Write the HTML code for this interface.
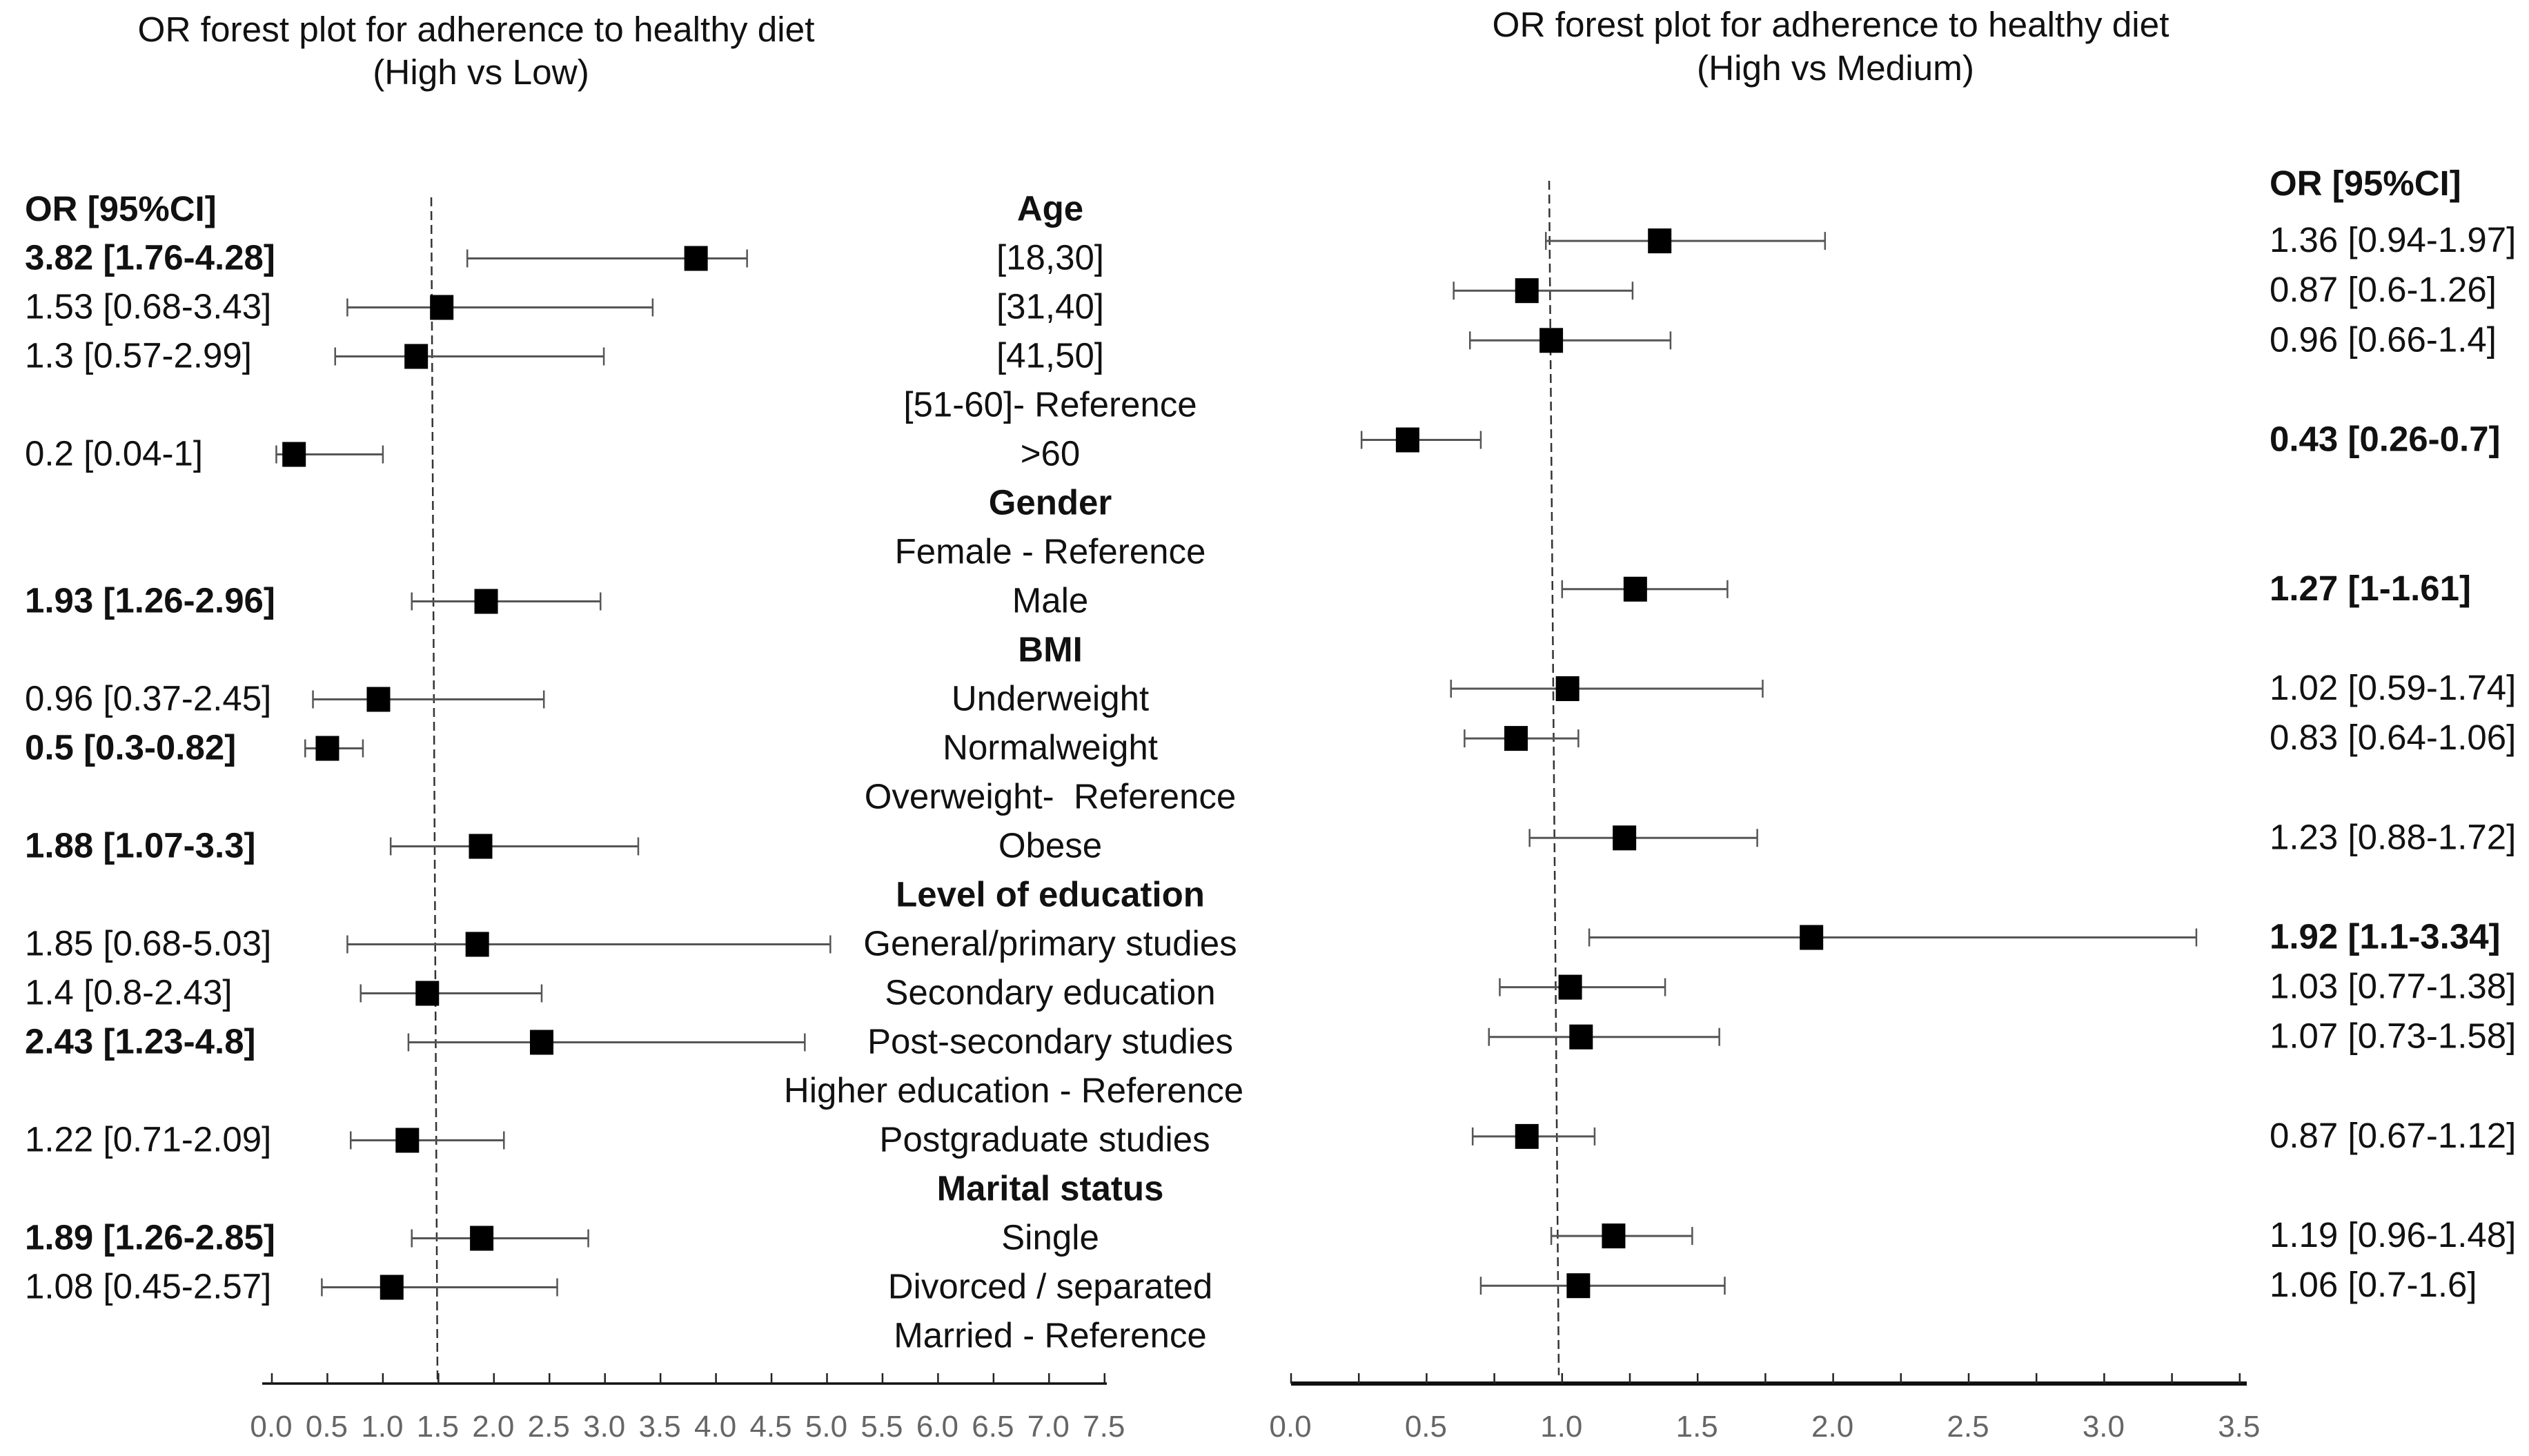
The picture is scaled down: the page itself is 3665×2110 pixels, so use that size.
<!DOCTYPE html>
<html lang="en">
<head>
<meta charset="utf-8">
<title>OR forest plots for adherence to healthy diet</title>
<style>
html,body{margin:0;padding:0;background:#fff;}
svg{display:block;}
text{font-family:"Liberation Sans",Arial,sans-serif;fill:#111;white-space:pre;}
</style>
</head>
<body>
<svg id="chart" xmlns="http://www.w3.org/2000/svg" width="3665" height="2110" viewBox="0 0 3665 2110">
  <rect x="0" y="0" width="3665" height="2110" fill="#ffffff"/>
  <g>
    <text x="690" y="60" font-size="51.3" text-anchor="middle" fill="#222">OR forest plot for adherence to healthy diet</text>
    <text x="697" y="122" font-size="51.3" text-anchor="middle" fill="#222">(High vs Low)</text>
  </g>
  <g>
    <text x="2653" y="53" font-size="51.3" text-anchor="middle" fill="#222">OR forest plot for adherence to healthy diet</text>
    <text x="2660" y="116" font-size="51.3" text-anchor="middle" fill="#222">(High vs Medium)</text>
  </g>
  <text x="36" y="320" font-size="51" font-weight="bold">OR [95%CI]</text>
  <text x="3289" y="283" font-size="51" font-weight="bold">OR [95%CI]</text>
  <g id="labels"></g>
  <g id="leftPlot"></g>
  <g id="rightPlot"></g>
</svg>
<script>
const categories = ["Age","[18,30]","[31,40]","[41,50]","[51-60]- Reference",">60","Gender","Female - Reference","Male","BMI","Underweight","Normalweight","Overweight-  Reference","Obese","Level of education","General/primary studies","Secondary education","Post-secondary studies","Higher education - Reference","Postgraduate studies","Marital status","Single","Divorced / separated","Married - Reference"];
const headerCategories = ["Age","Gender","BMI","Level of education","Marital status"];

const leftOR   = [null,3.82,1.53,1.3,null,0.2,null,null,1.93,null,0.96,0.5,null,1.88,null,1.85,1.4,2.43,null,1.22,null,1.89,1.08,null];
const leftLow  = [null,1.76,0.68,0.57,null,0.04,null,null,1.26,null,0.37,0.3,null,1.07,null,0.68,0.8,1.23,null,0.71,null,1.26,0.45,null];
const leftHigh = [null,4.28,3.43,2.99,null,1,null,null,2.96,null,2.45,0.82,null,3.3,null,5.03,2.43,4.8,null,2.09,null,2.85,2.57,null];
const leftSignificant = [false,true,false,false,false,false,false,false,true,false,false,true,false,true,false,false,false,true,false,false,false,true,false,false];

const rightOR   = [null,1.36,0.87,0.96,null,0.43,null,null,1.27,null,1.02,0.83,null,1.23,null,1.92,1.03,1.07,null,0.87,null,1.19,1.06,null];
const rightLow  = [null,0.94,0.6,0.66,null,0.26,null,null,1,null,0.59,0.64,null,0.88,null,1.1,0.77,0.73,null,0.67,null,0.96,0.7,null];
const rightHigh = [null,1.97,1.26,1.4,null,0.7,null,null,1.61,null,1.74,1.06,null,1.72,null,3.34,1.38,1.58,null,1.12,null,1.48,1.6,null];
const rightSignificant = [false,false,false,false,false,true,false,false,true,false,false,false,false,false,false,true,false,false,false,false,false,false,false,false];

const leftTickValues  = [0,0.5,1,1.5,2,2.5,3,3.5,4,4.5,5,5.5,6,6.5,7,7.5];
const rightTickValues = [0,0.5,1,1.5,2,2.5,3,3.5];
const rightMinorTickValues = [0.25,0.75,1.25,1.75,2.25,2.75,3.25];

const SVG_NS = "http://www.w3.org/2000/svg";
function make(parent, tag, attrs, content) {
  const el = document.createElementNS(SVG_NS, tag);
  for (const k in attrs) el.setAttribute(k, attrs[k]);
  if (content !== undefined) el.textContent = content;
  parent.appendChild(el);
  return el;
}
function leftX(v) { return 394 + v * 160.9; }
function rightX(v) { return 1871 + v * 392.8; }
function leftRowY(i) { return 303.5 + i * 71; }
function rightRowY(i) { return 277 + i * 72.1; }
function ciLabel(or, low, high) { return or + " [" + low + "-" + high + "]"; }

/* centre category labels */
const labelsGroup = document.getElementById("labels");
const labelCenterShift = {18: -53, 19: -8};
categories.forEach(function (name, i) {
  const cx = 1522 + (labelCenterShift[i] || 0);
  const t = make(labelsGroup, "text", {
    x: cx, y: leftRowY(i) + 16, "font-size": 51, "text-anchor": "middle",
    "font-weight": headerCategories.includes(name) ? "bold" : "normal"
  }, name);
  
  
});

function drawPanel(cfg) {
  const g = cfg.group;

  /* reference dashed line */
  const ref = make(g, "line", {
    x1: cfg.refLine[0], y1: cfg.refLine[1], x2: cfg.refLine[2], y2: cfg.refLine[3],
    stroke: "#333", "stroke-width": 2.5, "stroke-dasharray": "13 7"
  });
  
  

  /* axis */
  const axis = make(g, "line", {
    x1: cfg.axisStart, y1: 2005, x2: cfg.axisEnd, y2: 2005,
    stroke: "#111", "stroke-width": cfg.axisWidth
  });
  
  

  cfg.ticks.forEach(function (v) {
    const tick = make(g, "line", {
      x1: cfg.x(v), y1: 1990, x2: cfg.x(v), y2: 2005, stroke: "#222", "stroke-width": 2.5
    });
    
    

    const lab = make(g, "text", {
      x: cfg.x(v) - 1, y: 2082, "font-size": 44, "text-anchor": "middle"
    }, v.toFixed(1));
    lab.style.fill = "#666";
    
    
  });
  cfg.minorTicks.forEach(function (v) {
    const tick = make(g, "line", {
      x1: cfg.x(v), y1: 1990, x2: cfg.x(v), y2: 2005, stroke: "#222", "stroke-width": 2.5
    });
    
    
  });

  /* rows */
  cfg.or.forEach(function (or, i) {
    if (or === null) return;
    const y = cfg.rowY(i);
    const low = cfg.low[i], high = cfg.high[i];

    const ci = make(g, "line", {
      x1: cfg.x(low), y1: y, x2: cfg.x(high), y2: y, stroke: "#555", "stroke-width": 3
    });
    
    

    [low, high].forEach(function (v) {
      const cap = make(g, "line", {
        x1: cfg.x(v), y1: y - 13, x2: cfg.x(v), y2: y + 13, stroke: "#555", "stroke-width": 2.5
      });
      
      
    });

    const point = make(g, "rect", {
      x: cfg.x(or) - 17, y: y - 18, width: 34, height: 36, fill: "#000"
    });
    
    

    const txt = make(g, "text", {
      x: cfg.textX, y: y + 16, "font-size": 51,
      "font-weight": cfg.significant[i] ? "bold" : "normal"
    }, ciLabel(or, low, high));
    
    
  });
}

drawPanel({
  group: document.getElementById("leftPlot"),
  x: leftX, rowY: leftRowY, textX: 36,
  or: leftOR, low: leftLow, high: leftHigh, significant: leftSignificant,
  ticks: leftTickValues, minorTicks: [],
  axisStart: 380, axisEnd: 1604, axisWidth: 3.5,
  refLine: [625, 286, 634, 2000]
});
drawPanel({
  group: document.getElementById("rightPlot"),
  x: rightX, rowY: rightRowY, textX: 3289,
  or: rightOR, low: rightLow, high: rightHigh, significant: rightSignificant,
  ticks: rightTickValues, minorTicks: rightMinorTickValues,
  axisStart: 1871, axisEnd: 3256, axisWidth: 6,
  refLine: [2245, 262, 2259, 1993]
});
</script>
</body>
</html>
